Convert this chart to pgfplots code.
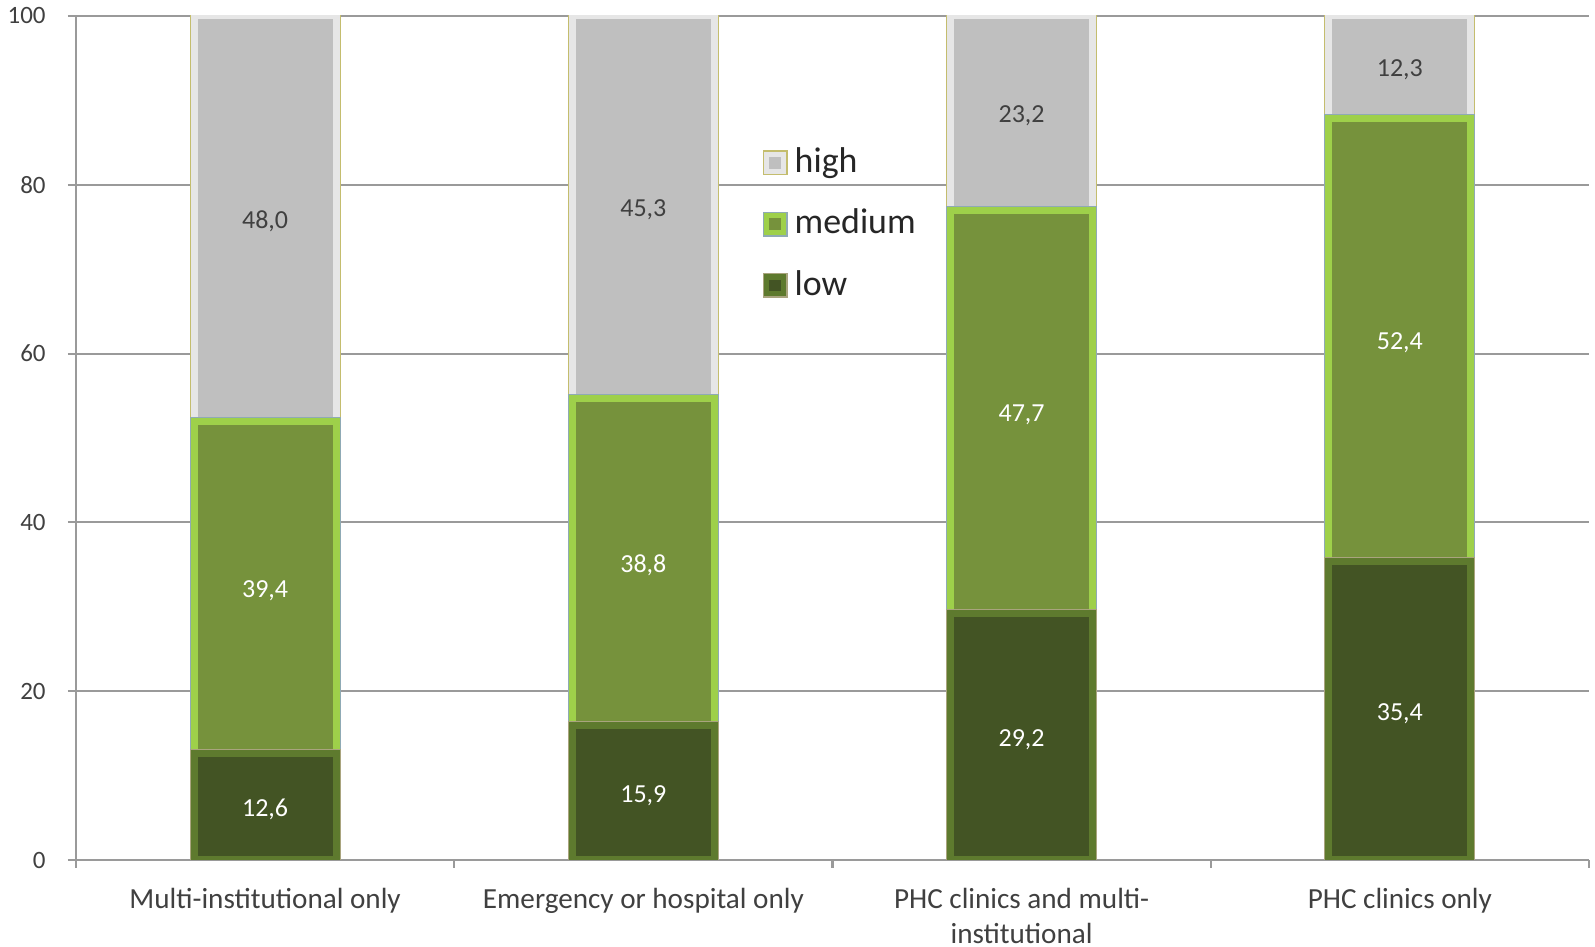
\documentclass[border=0pt]{standalone}
\usepackage{pgfplots}
\pgfplotsset{compat=1.18}
\usepackage{fontspec}
\setmainfont{Carlito}

\definecolor{hifill}{HTML}{BFBFBF}
\definecolor{hibev}{HTML}{E6E6E6}
\definecolor{hiline}{HTML}{C4BD6E}
\definecolor{medfill}{HTML}{76923C}
\definecolor{medbev}{HTML}{9ED04A}
\definecolor{medline}{HTML}{8FAAB5}
\definecolor{lowfill}{HTML}{435424}
\definecolor{lowbev}{HTML}{5E7A2E}
\definecolor{lowline}{HTML}{A9A47E}
\definecolor{gridc}{HTML}{9A9A9A}
\definecolor{txt}{HTML}{404040}

\pgfplotsset{
  bev/.style n args={3}{fill=#1, draw=#2, line width=0.7mm,
    preaction={draw=#3, line width=0.9mm}},
  samebox/.style={at={(7.6mm,8.7mm)}, anchor=south west, scale only axis,
    width=151.3mm, height=84.4mm, xmin=-0.5, xmax=3.5, ymin=0, ymax=100},
}

\begin{document}
\begin{tikzpicture}
\useasboundingbox (0,0) rectangle (159.5mm,94.7mm);
\begin{axis}[
  samebox,
  ybar stacked, bar width=14.2mm,
  axis lines=left, axis line style={gridc, line width=0.6pt, -},
  xtick={0,1,2,3},
  xticklabels={Multi-institutional only, Emergency or hospital only, {PHC clinics and multi-\\institutional}, PHC clinics only},
  major x tick style={draw=none},
  minor xtick={-0.5,0.5,1.5,2.5,3.5},
  ytick={0,20,...,100},
  tick style={gridc, line width=0.6pt},
  tick align=outside, major tick length=0.8mm, minor tick length=0.8mm,
  ymajorgrids, grid style={gridc, line width=0.6pt},
  xticklabel style={font=\fontsize{8.3}{9.9}\selectfont, text=txt, align=center, yshift=-0.8mm},
  yticklabel style={font=\fontsize{7.1}{8.5}\selectfont, text=txt, xshift=-1mm},
  /pgf/number format/assume math mode=true,
  reverse legend,
  legend style={draw=none, fill=none, at={(0.4534,0.853)}, anchor=north west,
    font=\fontsize{10.2}{12}\selectfont, text=black!85, row sep=1.7mm, inner sep=0pt,
    cells={anchor=west}},
  legend image code/.code={\draw[#1, line width=0.45mm, preaction={line width=0.6mm}] (0mm,-0.8mm) rectangle (1.6mm,0.8mm);},
]
\addplot[bev={lowfill}{lowbev}{lowline}] coordinates {(0,12.6) (1,15.9) (2,29.2) (3,35.4)};
\addplot[bev={medfill}{medbev}{medline}] coordinates {(0,39.4) (1,38.8) (2,47.7) (3,52.4)};
\addplot[bev={hifill}{hibev}{hiline}] coordinates {(0,48.0) (1,45.3) (2,23.2) (3,12.3)};
\legend{low, medium, high}
\end{axis}
\begin{axis}[samebox, hide axis]
\addplot[draw=none, nodes near coords, point meta=explicit symbolic,
  every node near coord/.append style={anchor=center, yshift=-0.3mm, text=white, font=\fontsize{7.4}{9}\selectfont}]
  table[meta=lab] {
x y lab
0 6.3 12,6
1 7.95 15,9
2 14.6 29,2
3 17.7 35,4
0 32.3 39,4
1 35.3 38,8
2 53.05 47,7
3 61.6 52,4
};
\addplot[draw=none, nodes near coords, point meta=explicit symbolic,
  every node near coord/.append style={anchor=center, yshift=-0.3mm, text=txt, font=\fontsize{7.4}{9}\selectfont}]
  table[meta=lab] {
x y lab
0 76.0 48,0
1 77.35 45,3
2 88.5 23,2
3 93.95 12,3
};
\end{axis}
\end{tikzpicture}
\end{document}
